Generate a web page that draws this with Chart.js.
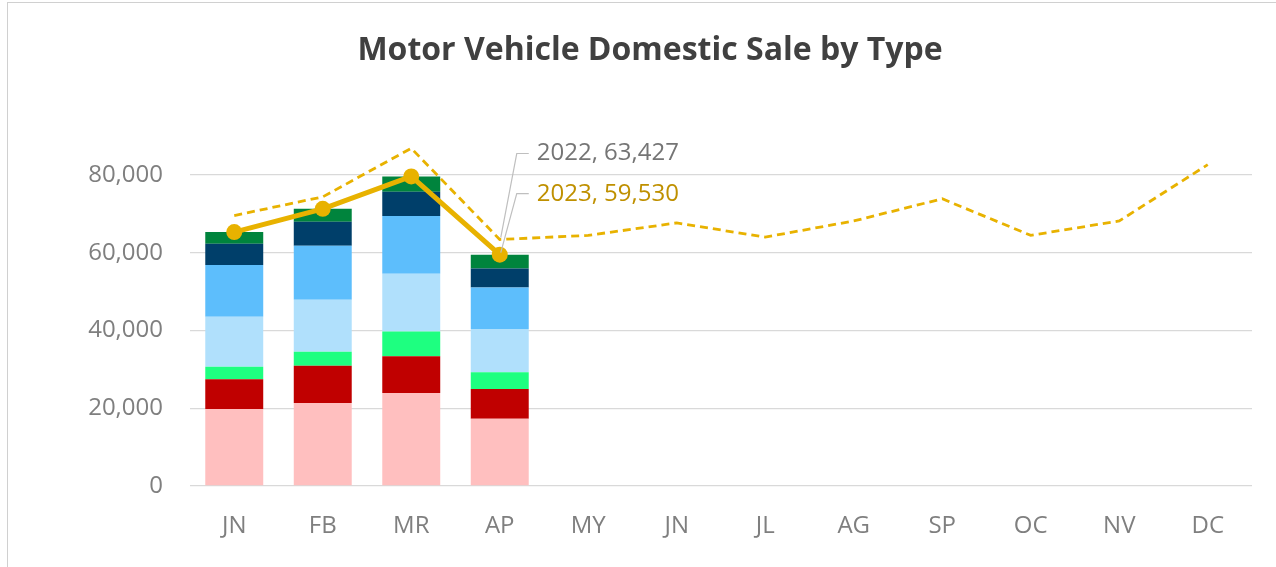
<!DOCTYPE html>
<html>
<head>
<meta charset="utf-8">
<script src="https://cdn.jsdelivr.net/npm/chart.js@4.4.0/dist/chart.umd.min.js"></script>
<style>
  html, body { margin: 0; padding: 0; background: #fff; overflow: hidden; }
  #wrap { position: relative; width: 1276px; height: 567px; }
  #chart { display: block; }
  #frame { position: absolute; left: 7px; top: 2px; width: 1300px; height: 600px; border: 1px solid #d0d0d0; pointer-events: none; }
</style>
</head>
<body>
<div id="wrap">
  <canvas id="chart" width="1276" height="567"></canvas>
  <div id="frame"></div>
</div>
<script>
const months = ['JN', 'FB', 'MR', 'AP', 'MY', 'JN', 'JL', 'AG', 'SP', 'OC', 'NV', 'DC'];

// 2023 domestic sales by vehicle type (stacked, bottom to top)
const type1 = [19800, 21350, 23920, 17310];
const type2 = [7650, 9600, 9440, 7640];
const type3 = [3250, 3600, 6430, 4300];
const type4 = [12850, 13370, 14820, 11140];
const type5 = [13300, 13890, 14840, 10720];
const type6 = [5500, 6180, 6260, 4890];
const type7 = [3000, 3340, 3960, 3530];

// yearly totals
const total2023 = [65350, 71330, 79670, 59530];
const total2022 = [69600, 74400, 86900, 63427, 64500, 67700, 64050, 68200, 73900, 64500, 68200, 82700];

const yTicks = [0, 20000, 40000, 60000, 80000];

const typeColors = ['#FFBFBF', '#C00000', '#1EFF80', '#B0E0FC', '#5DBEFC', '#003F6A', '#00843D'];
const typeSeries = [type1, type2, type3, type4, type5, type6, type7];

const FONT = 'Open Sans';
const TITLE = 'Motor Vehicle Domestic Sale by Type';

const barSets = typeSeries.map((vals, i) => ({
    type: 'bar',
    label: 'Type ' + (i + 1),
    data: vals,
    backgroundColor: typeColors[i],
    stack: 'types',
    order: 3,
    barPercentage: 0.655,
    categoryPercentage: 1
}));

// labels next to the April points with leader lines, plus the title centred on the frame
const calloutPlugin = {
    id: 'callout',
    afterDatasetsDraw(chart) {
        const ctx = chart.ctx;
        const idx = 3;
        const n = barSets.length;
        const p22 = chart.getDatasetMeta(n + 1).data[idx];
        const p23 = chart.getDatasetMeta(n).data[idx];
        const items = [
            { pt: p22, text: '2022, ' + total2022[idx].toLocaleString('en-US'), color: '#757575', dy: -86 },
            { pt: p23, text: '2023, ' + total2023[idx].toLocaleString('en-US'), color: '#BF9000', dy: -61 }
        ];
        ctx.save();
        items.forEach(it => {
            const tx = it.pt.x + 37;
            const ty = it.pt.y + it.dy;
            ctx.strokeStyle = '#BFBFBF';
            ctx.lineWidth = 1.2;
            ctx.beginPath();
            ctx.moveTo(tx - 8, ty);
            ctx.lineTo(tx - 20, ty);
            ctx.lineTo(it.pt.x + 1, it.pt.y - 2);
            ctx.stroke();
            ctx.fillStyle = it.color;
            ctx.font = '24px "' + FONT + '"';
            ctx.textAlign = 'left';
            ctx.textBaseline = 'middle';
            ctx.fillText(it.text, tx, ty);
        });

        const t = chart.titleBlock;
        ctx.fillStyle = '#404040';
        ctx.font = 'bold 32px "' + FONT + '"';
        ctx.textAlign = 'center';
        ctx.textBaseline = 'middle';
        ctx.fillText(TITLE, 650, t.top + 32 + 19.2);
        ctx.restore();
    }
};

const data = {
    labels: months,
    datasets: [
        ...barSets,
        {
            type: 'line',
            label: '2023',
            data: total2023,
            borderColor: '#E8B200',
            backgroundColor: '#E8B200',
            borderWidth: 5,
            pointRadius: 8,
            pointHoverRadius: 8,
            pointBorderWidth: 0,
            stack: 'y2023',
            order: 1,
            tension: 0
        },
        {
            type: 'line',
            label: '2022',
            data: total2022,
            borderColor: '#E8B200',
            borderWidth: 2.8,
            borderDash: [8, 5],
            pointRadius: 0,
            stack: 'y2022',
            order: 2,
            tension: 0
        }
    ]
};

const config = {
    data: data,
    plugins: [calloutPlugin],
    options: {
        responsive: false,
        animation: false,
        layout: {
            padding: { left: 0, right: 24, top: 0, bottom: 0 }
        },
        plugins: {
            legend: { display: false },
            tooltip: { enabled: false },
            title: {
                display: true,
                text: TITLE,
                color: 'rgba(0,0,0,0)',
                font: { family: FONT, size: 32, weight: 'bold' },
                padding: { top: 32, bottom: 27 }
            }
        },
        scales: {
            x: {
                stacked: true,
                grid: { display: false },
                border: { display: false },
                afterFit(scale) {
                    scale.height = 81;
                },
                ticks: {
                    color: '#7F7F7F',
                    padding: 18,
                    font: { family: FONT, size: 24 }
                }
            },
            y: {
                stacked: true,
                min: 0,
                max: 100000,
                afterBuildTicks(scale) {
                    scale.ticks = yTicks.map(v => ({ value: v }));
                },
                afterFit(scale) {
                    scale.width = 190;
                },
                grid: {
                    color: '#D9D9D9',
                    lineWidth: 1.3,
                    drawTicks: false
                },
                border: { display: false },
                ticks: {
                    color: '#7F7F7F',
                    padding: 27,
                    font: { family: FONT, size: 24 },
                    callback: v => v.toLocaleString('en-US')
                }
            }
        }
    }
};

new Chart(document.getElementById('chart'), config);
</script>
</body>
</html>
